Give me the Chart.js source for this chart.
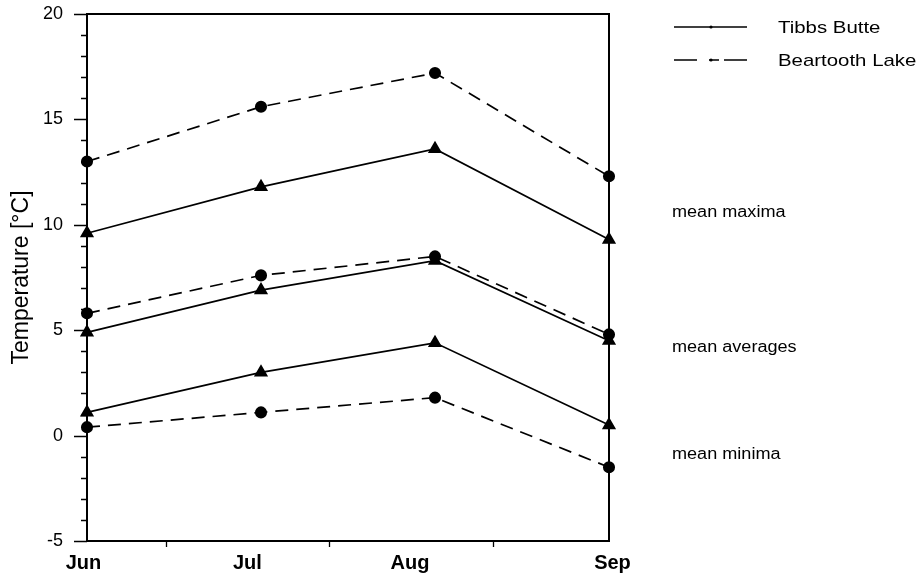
<!DOCTYPE html>
<html>
<head>
<meta charset="utf-8">
<script src="https://cdn.jsdelivr.net/npm/chart.js@4.4.1/dist/chart.umd.min.js"></script>
<style>
  html, body { margin: 0; padding: 0; background: #fff; }
  #wrap { width: 918px; height: 577px; position: relative; }
</style>
</head>
<body>
<div id="wrap"><canvas id="c" width="918" height="577"></canvas></div>
<script>
// Monthly temperature summaries (°C) for the two stations
const months = ['Jun', 'Jul', 'Aug', 'Sep'];
const monthIndex = [0, 1, 2, 3];

const tibbsMax = [9.6, 11.8, 13.6, 9.3];
const beartoothMax = [13.0, 15.6, 17.2, 12.3];
const tibbsAvg = [4.9, 6.9, 8.3, 4.5];
const beartoothAvg = [5.8, 7.6, 8.5, 4.8];
const tibbsMin = [1.1, 3.0, 4.4, 0.5];
const beartoothMin = [0.4, 1.1, 1.8, -1.5];

// Axis labelling
const monthLabelPos = [-0.02, 0.922, 1.856, 3.02];
const monthMinorTicks = [0.454, 1.391, 2.333];
const yMajorTicks = [-5, 0, 5, 10, 15, 20];
const yMinorTicks = [-4, -3, -2, -1, 1, 2, 3, 4, 6, 7, 8, 9, 11, 12, 13, 14, 16, 17, 18, 19];

const stations = ['Tibbs Butte', 'Beartooth Lake'];
const bandLabels = ['mean maxima', 'mean averages', 'mean minima'];

const DASH = [13, 8];

function pts(values) {
  return values.map((v, i) => ({ x: monthIndex[i], y: v }));
}

function tibbs(values) {
  return {
    label: stations[0],
    data: pts(values),
    borderColor: '#000',
    backgroundColor: '#000',
    borderWidth: 1.7,
    pointStyle: 'triangle',
    pointRadius: 6.5,
    pointHoverRadius: 6.5,
    tension: 0,
    clip: false
  };
}

function beartooth(values) {
  return {
    label: stations[1],
    data: pts(values),
    borderColor: '#000',
    backgroundColor: '#000',
    borderWidth: 1.7,
    borderDash: DASH,
    pointStyle: 'circle',
    pointRadius: 5.2,
    pointHoverRadius: 5.2,
    tension: 0,
    clip: false
  };
}

// Frame, minor ticks, legend and band annotations
const decorations = {
  id: 'decorations',
  afterDraw(chart) {
    const { ctx, chartArea: a, scales: { x, y } } = chart;
    ctx.save();
    ctx.strokeStyle = '#000';

    // frame
    ctx.lineWidth = 2;
    ctx.strokeRect(a.left, a.top, a.right - a.left, a.bottom - a.top);

    // y ticks
    ctx.lineWidth = 1.3;
    ctx.beginPath();
    yMajorTicks.forEach(v => {
      const py = Math.round(y.getPixelForValue(v)) + 0.5;
      ctx.moveTo(a.left - 13, py); ctx.lineTo(a.left, py);
    });
    yMinorTicks.forEach(v => {
      const py = Math.round(y.getPixelForValue(v)) + 0.5;
      ctx.moveTo(a.left - 6, py); ctx.lineTo(a.left, py);
    });
    // x minor ticks
    monthMinorTicks.forEach(v => {
      const px = Math.round(x.getPixelForValue(v)) + 0.5;
      ctx.moveTo(px, a.bottom); ctx.lineTo(px, a.bottom + 6);
    });
    ctx.stroke();

    // legend
    const lx0 = 674, lx1 = 747;
    const rows = [27, 60];
    ctx.lineWidth = 1.6;
    ctx.beginPath();
    ctx.moveTo(lx0, rows[0]); ctx.lineTo(lx1, rows[0]);
    ctx.stroke();
    ctx.setLineDash([23, 12, 10, 5]);
    ctx.beginPath();
    ctx.moveTo(lx0, rows[1]); ctx.lineTo(lx1, rows[1]);
    ctx.stroke();
    ctx.setLineDash([]);
    ctx.fillStyle = '#000';
    rows.forEach(r => {
      ctx.beginPath();
      ctx.arc(711, r, 1.6, 0, Math.PI * 2);
      ctx.fill();
    });

    ctx.font = '17px "Liberation Sans", Arial, sans-serif';
    ctx.textBaseline = 'middle';
    ctx.textAlign = 'left';
    stations.forEach((s, i) => {
      ctx.save();
      ctx.translate(778, rows[i] + 1);
      ctx.scale(1.2, 1);
      ctx.fillText(s, 0, 0);
      ctx.restore();
    });

    // band annotations
    const bandY = [213, 348, 455];
    ctx.font = '16px "Liberation Sans", Arial, sans-serif';
    bandLabels.forEach((t, i) => {
      ctx.save();
      ctx.translate(672, bandY[i]);
      ctx.scale(1.13, 1);
      ctx.fillText(t, 0, 0);
      ctx.restore();
    });

    ctx.restore();
  }
};

new Chart(document.getElementById('c'), {
  type: 'line',
  data: {
    datasets: [
      tibbs(tibbsMax), beartooth(beartoothMax),
      tibbs(tibbsAvg), beartooth(beartoothAvg),
      tibbs(tibbsMin), beartooth(beartoothMin)
    ]
  },
  options: {
    responsive: false,
    animation: false,
    devicePixelRatio: 1,
    layout: { padding: { top: 14, right: 309, left: 0, bottom: 0 } },
    plugins: {
      legend: { display: false },
      tooltip: { enabled: false }
    },
    scales: {
      x: {
        type: 'linear',
        min: 0,
        max: 3,
        grid: { display: false, drawTicks: false },
        border: { display: false },
        afterBuildTicks: s => { s.ticks = monthLabelPos.map(v => ({ value: v })); },
        afterFit: s => { s.height = 36; s.paddingLeft = 0; s.paddingRight = 0; },
        ticks: {
          autoSkip: false,
          maxRotation: 0,
          padding: 10,
          color: '#000',
          font: { family: '"Liberation Sans", Arial, sans-serif', size: 20, weight: 'bold' },
          callback: (v, i) => months[i]
        }
      },
      y: {
        min: -5,
        max: 20,
        grid: { display: false, drawTicks: false },
        border: { display: false },
        afterBuildTicks: s => { s.ticks = yMajorTicks.map(v => ({ value: v })); },
        afterFit: s => { s.width = 87; s.paddingTop = 0; s.paddingBottom = 0; },
        ticks: {
          padding: 24,
          color: '#000',
          font: { family: '"Liberation Sans", Arial, sans-serif', size: 18 }
        },
        title: {
          display: true,
          text: 'Temperature [°C]',
          color: '#000',
          padding: { top: 8, bottom: 0 },
          font: { family: '"Liberation Sans", Arial, sans-serif', size: 23 }
        }
      }
    }
  },
  plugins: [decorations]
});
</script>
</body>
</html>
